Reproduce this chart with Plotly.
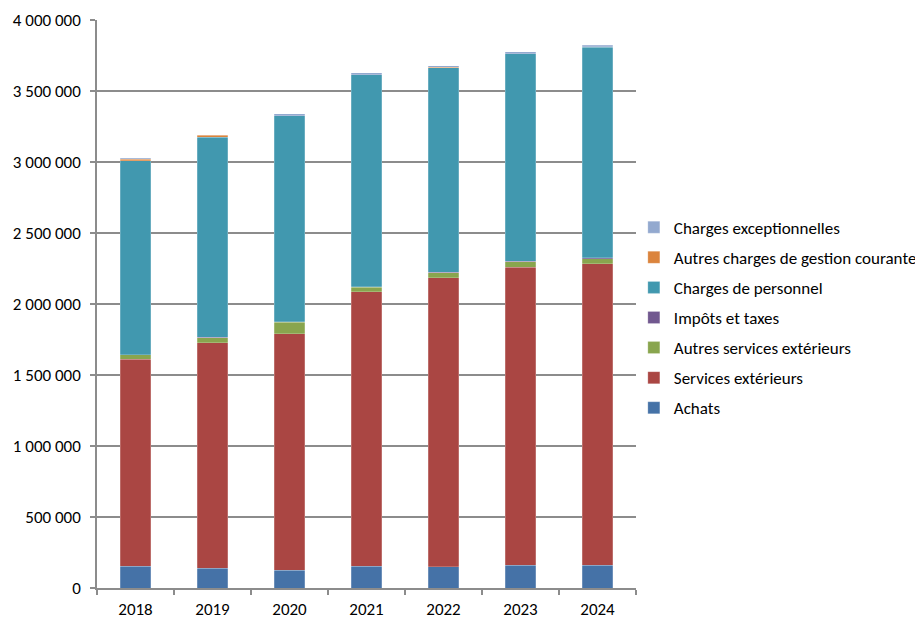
import plotly.graph_objects as go

years = ["2018", "2019", "2020", "2021", "2022", "2023", "2024"]

achats = [153000, 139000, 125000, 153000, 150000, 162000, 162000]
services_ext = [1459000, 1588000, 1664000, 1934000, 2035000, 2096000, 2122000]
autres_services_ext = [29000, 36000, 84000, 31000, 35000, 40000, 36000]
impots_taxes = [2000, 2000, 2000, 2000, 2000, 2000, 4000]
charges_personnel = [1366000, 1411000, 1449000, 1493000, 1442000, 1461000, 1484000]
autres_charges_gestion = [10000, 14000, 3000, 3000, 3000, 3000, 3000]
charges_exceptionnelles = [9000, 2000, 12000, 12000, 12000, 12000, 12000]

series = [
    ("Achats", achats, "#4572A7"),
    ("Services extérieurs", services_ext, "#AA4643"),
    ("Autres services extérieurs", autres_services_ext, "#89A54E"),
    ("Impôts et taxes", impots_taxes, "#71588F"),
    ("Charges de personnel", charges_personnel, "#4198AF"),
    ("Autres charges de gestion courante", autres_charges_gestion, "#DB843D"),
    ("Charges exceptionnelles", charges_exceptionnelles, "#93A9CF"),
]

font_family = "Carlito, Calibri, Lato, sans-serif"
fsize = 17

fig = go.Figure()
n = len(series)
for i, (name, vals, color) in enumerate(series):
    fig.add_trace(go.Bar(
        x=years, y=vals, name=name,
        marker=dict(color=color, line=dict(color="rgba(255,255,255,0.35)", width=0.6)),
        legendgroup=f"g{i}",
        legendrank=n - i,
    ))

fig.update_layout(
    barmode="stack",
    bargap=0.61,
    width=915, height=609,
    margin=dict(l=89, r=287, t=12, b=29, autoexpand=False),
    paper_bgcolor="white",
    plot_bgcolor="white",
    separators=", ",
    font=dict(family=font_family, size=fsize, color="#000000"),
    legend=dict(
        traceorder="grouped",
        tracegroupgap=5,
        x=0.996, xanchor="left",
        y=0.476, yanchor="middle",
        font=dict(family=font_family, size=fsize, color="#000000"),
        bgcolor="rgba(0,0,0,0)",
        itemwidth=30,
    ),
    showlegend=True,
)

fig.update_yaxes(
    range=[0, 4000000],
    tickvals=[0, 500000, 1000000, 1500000, 2000000, 2500000, 3000000, 3500000, 4000000],
    tickformat=",d",
    showgrid=True, gridcolor="#8C8C8C", gridwidth=1.5,
    showline=True, linecolor="#8C8C8C", linewidth=1.5,
    ticks="outside", ticklen=5, tickcolor="#8C8C8C", tickwidth=1.5,
    ticklabelstandoff=6,
    zeroline=False,
    automargin=False,
    tickfont=dict(family=font_family, size=fsize, color="#000000"),
)
fig.update_xaxes(
    type="category",
    showline=True, linecolor="#8C8C8C", linewidth=1.5,
    ticks="outside", ticklen=5, tickcolor="#8C8C8C", tickwidth=1.5,
    tickson="boundaries",
    ticklabelstandoff=5,
    showgrid=False,
    automargin=False,
    tickfont=dict(family=font_family, size=fsize, color="#000000"),
)

fig.write_html("out.html")
